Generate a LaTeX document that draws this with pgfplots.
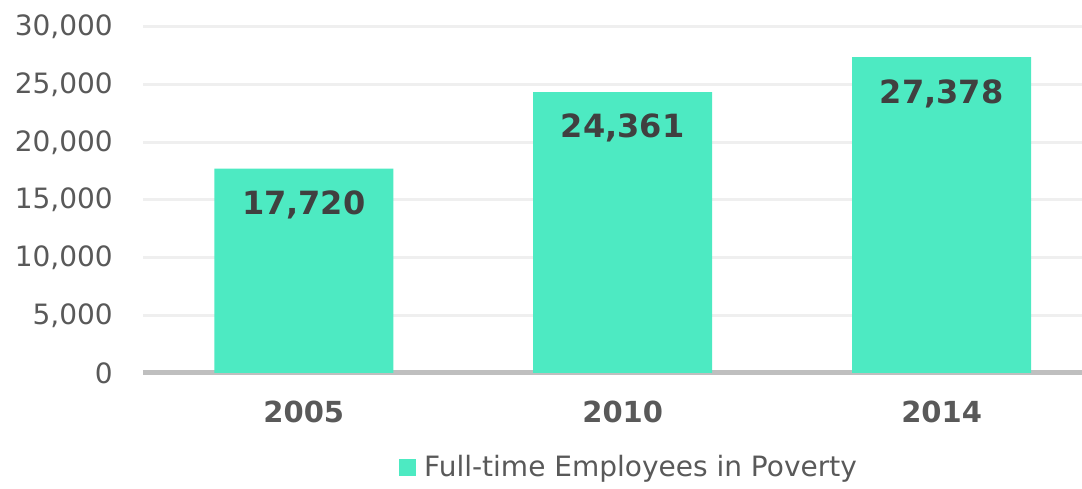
\documentclass[border=0pt]{standalone}
\usepackage{pgfplots}
\pgfplotsset{compat=1.18}
\usepackage{fontspec}
\setmainfont{DejaVu Sans}
\definecolor{barc}{HTML}{4DEAC2}
\definecolor{tickc}{HTML}{595959}
\definecolor{valc}{HTML}{404040}
\definecolor{axisc}{HTML}{BFBFBF}
\definecolor{gridc}{HTML}{EFEFEF}
\begin{document}
\begin{tikzpicture}
\path[use as bounding box] (0,0) rectangle (1082pt,489pt);
\begin{axis}[
  at={(143pt,116pt)}, anchor=south west,
  scale only axis, width=939pt, height=346pt,
  xmin=-0.504, xmax=2.44, ymin=0, ymax=30000,
  ytick={0,5000,...,30000},
  xtick={0,1,2}, xticklabels={2005,2010,2014},
  ybar, bar width=179pt,
  axis x line*=bottom, axis y line*=left,
  x axis line style={draw=axisc, line width=5pt, -},
  y axis line style={draw=none},
  tick style={draw=none},
  ymajorgrids, grid style={draw=gridc, line width=3pt},
  scaled y ticks=false,
  /pgf/number format/.cd, 1000 sep={,}, assume math mode=true,
  /pgfplots/.cd,
  yticklabel style={font=\fontsize{28}{28}\selectfont, text=tickc, inner sep=0pt, xshift=-30pt},
  xticklabel style={font=\bfseries\fontsize{29}{29}\selectfont, text=tickc, yshift=-20pt},
  nodes near coords,
  nodes near coords style={anchor=north, inner sep=0pt, yshift=-22pt, font=\bfseries\fontsize{32}{32}\selectfont, text=valc},
  legend style={at={(0.5176,-0.272)}, anchor=center, draw=none, fill=none,
    font=\fontsize{28}{28}\selectfont, text=tickc,
    /tikz/every odd column/.append style={column sep=6pt}},
  legend image code/.code={\fill[barc] (0pt,-8.5pt) rectangle (17pt,8.5pt);},
]
\addplot[fill=barc, draw=none] coordinates {(0,17720) (1,24361) (2,27378)};
\legend{Full-time Employees in Poverty}
\end{axis}
\end{tikzpicture}
\end{document}
